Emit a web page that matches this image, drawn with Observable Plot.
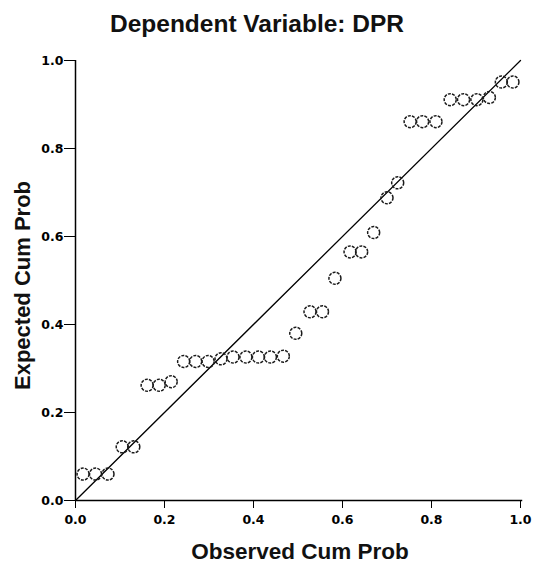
<!DOCTYPE html>
<html>
<head>
<meta charset="utf-8">
<script src="https://cdn.jsdelivr.net/npm/d3@7"></script>
<script src="https://cdn.jsdelivr.net/npm/@observablehq/plot@0.6"></script>
<style>
  html, body { margin: 0; padding: 0; background: #fff; }
</style>
</head>
<body>
<div id="chart"></div>
<script>
const title = "Dependent Variable: DPR";
const xLabel = "Observed Cum Prob";
const yLabel = "Expected Cum Prob";
const tickValues = [0, 0.2, 0.4, 0.6, 0.8, 1.0];

const observed = [0.017, 0.045, 0.073, 0.105, 0.131, 0.161, 0.188, 0.215, 0.243, 0.270, 0.298, 0.327,
  0.354, 0.383, 0.411, 0.438, 0.467, 0.495, 0.527, 0.555, 0.583, 0.617, 0.643, 0.670, 0.700, 0.724,
  0.752, 0.780, 0.810, 0.842, 0.872, 0.902, 0.930, 0.957, 0.983];
const expected = [0.060, 0.060, 0.060, 0.122, 0.122, 0.262, 0.262, 0.270, 0.316, 0.316, 0.316, 0.322,
  0.326, 0.326, 0.326, 0.326, 0.328, 0.380, 0.429, 0.429, 0.505, 0.565, 0.565, 0.609, 0.688, 0.722,
  0.861, 0.861, 0.861, 0.911, 0.911, 0.911, 0.916, 0.951, 0.951];

const points = observed.map((o, i) => ({obs: o, exp: expected[i]}));
const diag = [{obs: 0, exp: 0}, {obs: 1, exp: 1}];

const tickFont = "DejaVu Sans, Liberation Sans, sans-serif";

const chart = Plot.plot({
  width: 534,
  height: 566,
  marginLeft: 75,
  marginRight: 14,
  marginTop: 60,
  marginBottom: 66,
  style: {fontFamily: "Liberation Sans, Arial, sans-serif", background: "#fff", color: "#000"},
  x: {domain: [0, 1]},
  y: {domain: [0, 1]},
  marks: [
    Plot.axisX({ticks: tickValues, tickFormat: d3.format(".1f"), tickSize: 8, tickPadding: 7,
      label: null, fontSize: 12.5, fontWeight: "bold", fontFamily: tickFont, stroke: "#000"}),
    Plot.axisY({ticks: tickValues, tickFormat: d3.format(".1f"), tickSize: 11, tickPadding: 1,
      label: null, fontSize: 12.5, fontWeight: "bold", fontFamily: tickFont, stroke: "#000"}),
    Plot.ruleX([0], {stroke: "#000", strokeWidth: 1.5}),
    Plot.ruleY([0], {stroke: "#000", strokeWidth: 1.5, x1: 0, x2: 1.005}),
    Plot.line(diag, {x: "obs", y: "exp", stroke: "#000", strokeWidth: 1.3}),
    Plot.dot(points, {x: "obs", y: "exp", r: 6, stroke: "#1a1a1a", strokeWidth: 1.5,
      strokeDasharray: "3,1.2", fill: "none"}),
    Plot.text([title], {frameAnchor: "top", dx: -41, dy: -46, fontSize: 24.5, fontWeight: "bold",
      fill: "#111", textAnchor: "middle"}),
    Plot.text([xLabel], {frameAnchor: "bottom", dx: 2, dy: 58, fontSize: 22.5, fontWeight: "bold",
      fill: "#111", textAnchor: "middle"}),
    Plot.text([yLabel], {frameAnchor: "left", dx: -53, dy: 5, rotate: -90, fontSize: 22,
      fontWeight: "bold", fill: "#111", textAnchor: "middle"})
  ]
});
document.getElementById("chart").appendChild(chart);
</script>
</body>
</html>
